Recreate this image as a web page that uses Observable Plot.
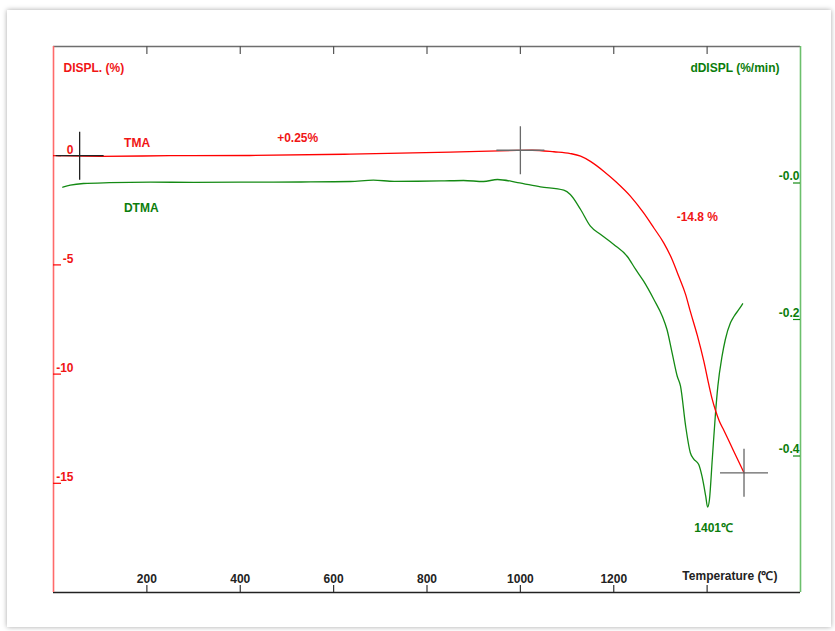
<!DOCTYPE html>
<html><head><meta charset="utf-8">
<script src="https://cdn.jsdelivr.net/npm/d3@7"></script>
<script src="https://cdn.jsdelivr.net/npm/@observablehq/plot@0.6"></script>
<style>
html,body{margin:0;padding:0;background:#fff;overflow:hidden;width:835px;height:631px;}
#card{position:absolute;left:7px;top:10px;width:824px;height:617px;background:#fff;box-shadow:0 0 5px rgba(0,0,0,0.35);}
#chart{position:absolute;left:0;top:0;}
</style></head><body><div id="card"></div><div id="chart"></div>
<script>
// ---- data ----
const tempDomain = [0, 1600];
const displDomain = [-20, 5];
const rateDomain = [-0.6, 0.2];
const xTickValues = [200, 400, 600, 800, 1000, 1200, 1400];
const xLabelValues = [200, 400, 600, 800, 1000, 1200];
const xTitle = "Temperature (℃)";
const displTicks = [0, -5, -10, -15];
const displTickLabels = ["0", "-5", "-10", "-15"];
const rateTicks = [0, -0.2, -0.4];
const rateTickLabels = ["-0.0", "-0.2", "-0.4"];
const leftTitle = "DISPL. (%)";
const rightTitle = "dDISPL (%/min)";

const tmaTemp = [10, 100, 250, 420, 636, 850, 993, 1025, 1072, 1107, 1129, 1150, 1179, 1207, 1236, 1264, 1286, 1307, 1325, 1339, 1354, 1364, 1379, 1393, 1404, 1411, 1418, 1426, 1436, 1457, 1479];
const tmaDispl = [0, -0.03, 0.0, 0.01, 0.07, 0.16, 0.24, 0.25, 0.18, 0.10, -0.02, -0.26, -0.72, -1.24, -1.86, -2.62, -3.31, -3.99, -4.75, -5.51, -6.36, -7.13, -8.23, -9.42, -10.52, -11.16, -11.67, -12.15, -12.58, -13.53, -14.52];

const dtmaTemp = [20, 36, 64, 120, 208, 300, 422, 530, 636, 685, 730, 780, 830, 878, 921, 951, 994, 1043, 1093, 1107, 1129, 1150, 1172, 1200, 1229, 1247, 1264, 1286, 1304, 1314, 1325, 1336, 1343, 1354, 1364, 1371, 1382, 1389, 1397, 1401, 1405, 1411, 1418, 1423, 1432, 1439, 1450, 1457, 1468, 1476];
const dtmaRate = [-0.0062, -0.0032, -0.0007, 0.0005, 0.0012, 0.0010, 0.0012, 0.0015, 0.0022, 0.0041, 0.0025, 0.0026, 0.0030, 0.0037, 0.0022, 0.0051, 0.0007, -0.0056, -0.0105, -0.0168, -0.0388, -0.0633, -0.0755, -0.0901, -0.1077, -0.1267, -0.1439, -0.1707, -0.1952, -0.2147, -0.2488, -0.2831, -0.2977, -0.3563, -0.3953, -0.4041, -0.4125, -0.4296, -0.4589, -0.4750, -0.4637, -0.4051, -0.3367, -0.2977, -0.2538, -0.2293, -0.2048, -0.1960, -0.1853, -0.1770];

const crossTemp = [56, 1000, 1479];
const crossDispl = [0, 0.25, -14.52];

const tmaNotes = ["TMA", "+0.25%", "-14.8 %"];
const tmaNoteTemp = [179, 523, 1379];
const tmaNoteDispl = [0.56, 0.79, -2.83];
const dtmaNotes = ["DTMA", "1401℃"];
const dtmaNoteTemp = [188, 1414];
const dtmaNoteRate = [-0.0374, -0.505];

// ---- layout / style ----
const W = 835, H = 631, mL = 53, mR = 35, mT = 46, mB = 39;
const innerW = W - mL - mR, innerH = H - mT - mB;
const RED = "#ff0000", GREEN = "#148a14", RED_T = "#f01515", GREEN_T = "#0b7d0b";
const FONT = "Liberation Sans, Arial, Helvetica, sans-serif";
const crossStroke = ["#222", "#6a6a6a", "#666"];

// map secondary (rate) values into the primary y scale
const toY = (r) => displDomain[0] + (r - rateDomain[0]) / (rateDomain[1] - rateDomain[0]) * (displDomain[1] - displDomain[0]);

const tma = tmaTemp.map((t, i) => ({T: t, v: tmaDispl[i]}));
const dtma = dtmaTemp.map((t, i) => ({T: t, r: dtmaRate[i]}));
const crosses = crossTemp.map((t, i) => ({T: t, v: crossDispl[i], k: i}));
const tmaNoteData = tmaNotes.map((s, i) => ({s, T: tmaNoteTemp[i], v: tmaNoteDispl[i]}));
const dtmaNoteData = dtmaNotes.map((s, i) => ({s, T: dtmaNoteTemp[i], r: dtmaNoteRate[i]}));

const crosshair = {
  draw(ctx, size) {
    const r = Math.sqrt(size / Math.PI);
    ctx.moveTo(-r, 0); ctx.lineTo(r, 0);
    ctx.moveTo(0, -r); ctx.lineTo(0, r);
  }
};

const txt = {fontFamily: FONT, fontWeight: "bold", fontSize: 12, lineAnchor: "middle"};

const chart = Plot.plot({
  width: W, height: H,
  marginLeft: mL, marginRight: mR, marginTop: mT, marginBottom: mB,
  style: {background: "transparent", overflow: "visible"},
  x: {domain: tempDomain, axis: null},
  y: {domain: displDomain, axis: null},
  marks: [
    // frame
    Plot.ruleY([displDomain[1]], {stroke: "#6e6e6e", strokeWidth: 1.5}),
    Plot.ruleY([displDomain[0]], {stroke: "#222", strokeWidth: 1.5}),
    Plot.ruleX([tempDomain[0]], {stroke: "#ff6a6a", strokeWidth: 1.6}),
    Plot.ruleX([tempDomain[1]], {stroke: "#6cbf6c", strokeWidth: 1.6}),
    // x ticks (inward) top & bottom
    Plot.tickX(xTickValues, {x: d => d, insetBottom: innerH - 8, stroke: "#555", strokeWidth: 1.2}),
    Plot.tickX(xTickValues, {x: d => d, insetTop: innerH - 7, stroke: "#333", strokeWidth: 1.2}),
    Plot.text(xLabelValues, {...txt, x: d => d, text: d => String(d), frameAnchor: "bottom", dy: -13, fill: "#222"}),
    Plot.text([xTitle], {...txt, text: d => d, frameAnchor: "bottom-right", textAnchor: "end", dx: -23, dy: -16, fill: "#222"}),
    // left axis
    Plot.tickY(displTicks, {y: d => d, insetRight: innerW - 8, stroke: RED, strokeWidth: 1.2}),
    Plot.text(displTicks, {...txt, y: d => d, text: (d, i) => displTickLabels[i], frameAnchor: "left", textAnchor: "end", dx: 20, dy: -6, fill: RED_T}),
    Plot.text([leftTitle], {...txt, text: d => d, frameAnchor: "top-left", textAnchor: "start", dx: 10, dy: 22, fill: RED_T}),
    // right axis
    Plot.tickY(rateTicks, {y: d => toY(d), insetLeft: innerW - 7, stroke: GREEN, strokeWidth: 1.2}),
    Plot.text(rateTicks, {...txt, y: d => toY(d), text: (d, i) => rateTickLabels[i], frameAnchor: "right", textAnchor: "end", dx: -1, dy: -6.5, fill: GREEN_T}),
    Plot.text([rightTitle], {...txt, text: d => d, frameAnchor: "top-right", textAnchor: "end", dx: -21, dy: 22, fill: GREEN_T}),
    // curves
    Plot.line(dtma, {x: "T", y: d => toY(d.r), stroke: GREEN, strokeWidth: 1.3, curve: "monotone-x"}),
    Plot.line(tma, {x: "T", y: "v", stroke: RED, strokeWidth: 1.3, curve: "monotone-x"}),
    // crosshair markers
    Plot.dot(crosses, {x: "T", y: "v", r: 24, symbol: crosshair, fill: "none", stroke: d => crossStroke[d.k], strokeWidth: 1.3}),
    // annotations
    Plot.text(tmaNoteData, {...txt, x: "T", y: "v", text: "s", fill: RED_T}),
    Plot.text(dtmaNoteData, {...txt, x: "T", y: d => toY(d.r), text: "s", fill: GREEN_T})
  ]
});
document.getElementById("chart").appendChild(chart);
</script>
</body></html>
